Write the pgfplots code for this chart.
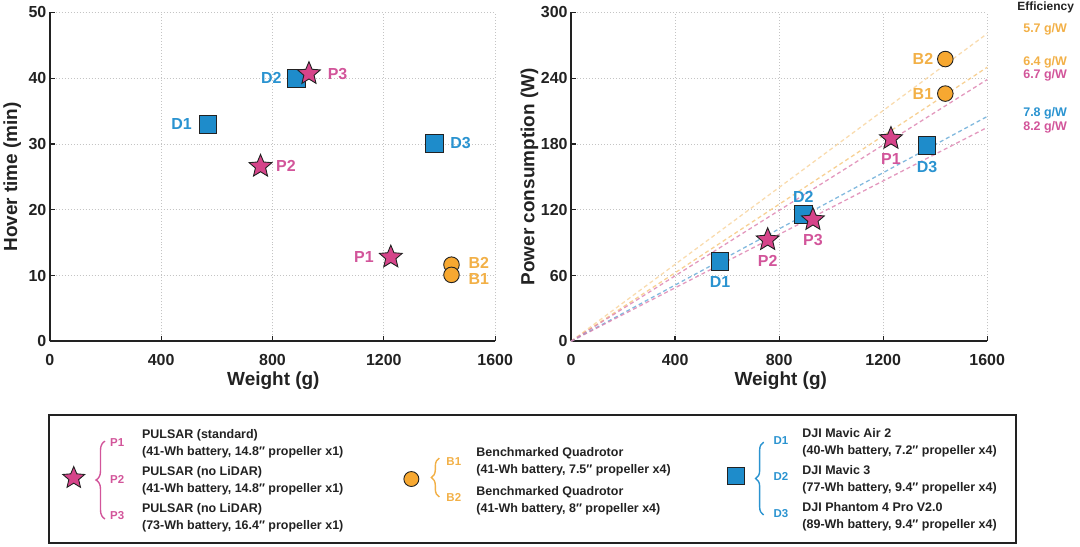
\documentclass[border=0pt]{standalone}
\usepackage{fontspec}
\setmainfont{Liberation Sans}
\usepackage{pgfplots}
\pgfplotsset{compat=1.18}
\usetikzlibrary{decorations.pathreplacing}

\definecolor{cpink}{HTML}{D6448A}
\definecolor{tpink}{HTML}{D2559A}
\definecolor{cblue}{HTML}{1E8CCB}
\definecolor{tblue}{HTML}{2A93D0}
\definecolor{corange}{HTML}{F7A831}
\definecolor{torange}{HTML}{F2B047}
\definecolor{lorange}{HTML}{F5C57A}
\definecolor{lpink}{HTML}{DC7FAE}
\definecolor{lblue}{HTML}{63A8D6}
\definecolor{gridc}{HTML}{C4C4C4}
\definecolor{ink}{HTML}{222222}

\newcommand{\fs}[1]{\fontsize{#1}{#1}\selectfont\bfseries}

\pgfdeclareplotmark{fstar}{%
  \pgfpathmoveto{\pgfpointpolar{90}{\pgfplotmarksize}}%
  \pgfpathlineto{\pgfpointpolar{126}{0.45*\pgfplotmarksize}}%
  \pgfpathlineto{\pgfpointpolar{162}{\pgfplotmarksize}}%
  \pgfpathlineto{\pgfpointpolar{198}{0.45*\pgfplotmarksize}}%
  \pgfpathlineto{\pgfpointpolar{234}{\pgfplotmarksize}}%
  \pgfpathlineto{\pgfpointpolar{270}{0.45*\pgfplotmarksize}}%
  \pgfpathlineto{\pgfpointpolar{306}{\pgfplotmarksize}}%
  \pgfpathlineto{\pgfpointpolar{342}{0.45*\pgfplotmarksize}}%
  \pgfpathlineto{\pgfpointpolar{18}{\pgfplotmarksize}}%
  \pgfpathlineto{\pgfpointpolar{54}{0.45*\pgfplotmarksize}}%
  \pgfpathclose
  \pgfusepathqfillstroke}

\pgfplotsset{
  myax/.style={
    scale only axis, axis lines=left,
    axis line style={line width=1.8pt, color=ink, -},
    tick align=inside, major tick length=5pt,
    tick style={line width=1.2pt, color=ink},
    grid=major, grid style={dash pattern=on 1pt off 2pt, line width=1pt, color=gridc},
    enlargelimits=false, clip=false,
    /pgf/number format/assume math mode=true,
    /pgf/number format/1000 sep={},
    ticklabel style={font=\fs{16}, text=ink},
    label style={font=\fs{19}, text=ink},
    xmin=0, xmax=1600, xtick={0,400,...,1600},
    xticklabel style={yshift=-10pt},
  },
  star/.style={only marks, mark=fstar, mark size=12pt, mark options={fill=cpink, draw=ink, line width=0.9pt}},
  sq/.style={only marks, mark=square*, mark size=8.8pt, mark options={fill=cblue, draw=ink, line width=0.9pt}},
  circ/.style={only marks, mark=*, mark size=7.8pt, mark options={fill=corange, draw=ink, line width=0.9pt}},
  eff/.style={dash pattern=on 4pt off 3pt, line width=1.3pt, opacity=0.8},
}
\tikzset{lbl/.style={font=\fs{16}, inner sep=0pt}}

\begin{document}
\begin{tikzpicture}[x=1pt,y=1pt]
\path (0,0) rectangle (1080,548);

% ---------------- left: hover time ----------------
\begin{axis}[myax, at={(47.7pt,206pt)}, anchor=south west,
  width=446.3pt, height=329.5pt,
  ymin=0, ymax=50, ytick={0,10,...,50},
  xlabel={Weight (g)}, ylabel={Hover time (min)},
  xlabel style={at={(axis description cs:0.502,-0.121)}, anchor=center},
  ylabel style={at={(axis description cs:-0.0845,0.5)}, anchor=center}]
\addplot[sq] coordinates {(568,33.0) (887,40.0) (1381,30.1)};
\addplot[star] coordinates {(1225,12.8) (757,26.6) (931,40.7)};
\addplot[circ] coordinates {(1443,11.65) (1443,10.1)};
\node[lbl, text=tblue, anchor=east] at (axis cs:568,33.0) [xshift=-16pt] {D1};
\node[lbl, text=tblue, anchor=east] at (axis cs:887,40.0) [xshift=-15pt] {D2};
\node[lbl, text=tblue, anchor=west] at (axis cs:1381,30.1) [xshift=16pt] {D3};
\node[lbl, text=tpink, anchor=east] at (axis cs:1225,12.8) [xshift=-17pt] {P1};
\node[lbl, text=tpink, anchor=west] at (axis cs:757,26.6) [xshift=15.5pt] {P2};
\node[lbl, text=tpink, anchor=west] at (axis cs:931,40.7) [xshift=18.7pt] {P3};
\node[lbl, text=torange, anchor=west] at (axis cs:1443,11.65) [xshift=17pt, yshift=2pt] {B2};
\node[lbl, text=torange, anchor=west] at (axis cs:1443,10.1) [xshift=17pt, yshift=-3.7pt] {B1};
\end{axis}

% ---------------- right: power consumption ----------------
\begin{axis}[myax, at={(570pt,206pt)}, anchor=south west,
  width=417pt, height=329.5pt,
  ymin=0, ymax=300, ytick={0,60,...,300},
  xlabel={Weight (g)}, ylabel={Power consumption (W)},
  xlabel style={at={(axis description cs:0.504,-0.121)}, anchor=center},
  ylabel style={at={(axis description cs:-0.1,0.5)}, anchor=center}]
\addplot[eff, color=lorange!75] coordinates {(0,0) (1600,280.7)};
\addplot[eff, color=lorange] coordinates {(0,0) (1600,250.0)};
\addplot[eff, color=lpink] coordinates {(0,0) (1600,238.8)};
\addplot[eff, color=lblue] coordinates {(0,0) (1600,205.1)};
\addplot[eff, color=lpink] coordinates {(0,0) (1600,195.1)};
\addplot[sq] coordinates {(573,73.0) (893,115.5) (1369,178.5)};
\addplot[star] coordinates {(1230,185) (756,92.7) (930,111)};
\addplot[circ] coordinates {(1439,257.5) (1439,226)};
\node[lbl, text=tblue] at (axis cs:573,73.0) [yshift=-21pt] {D1};
\node[lbl, text=tblue] at (axis cs:893,115.5) [yshift=18.3pt] {D2};
\node[lbl, text=tblue] at (axis cs:1369,178.5) [yshift=-21pt] {D3};
\node[lbl, text=tpink] at (axis cs:1230,185) [yshift=-21pt] {P1};
\node[lbl, text=tpink] at (axis cs:756,92.7) [yshift=-21.7pt] {P2};
\node[lbl, text=tpink] at (axis cs:930,111) [yshift=-20pt] {P3};
\node[lbl, text=torange, anchor=east] at (axis cs:1439,257.5) [xshift=-12pt] {B2};
\node[lbl, text=torange, anchor=east] at (axis cs:1439,226) [xshift=-12pt] {B1};
\node[font=\fs{12}, text=ink, inner sep=0pt, anchor=west] at (axis cs:1600,304.5) [xshift=30pt] {Efficiency};
\node[font=\fs{12.5}, text=torange, inner sep=0pt, anchor=west] at (axis cs:1600,284.5) [xshift=36pt] {5.7 g/W};
\node[font=\fs{12.5}, text=torange, inner sep=0pt, anchor=west] at (axis cs:1600,254.5) [xshift=36pt] {6.4 g/W};
\node[font=\fs{12.5}, text=tpink, inner sep=0pt, anchor=west] at (axis cs:1600,242.7) [xshift=36pt] {6.7 g/W};
\node[font=\fs{12.5}, text=tblue, inner sep=0pt, anchor=west] at (axis cs:1600,208) [xshift=36pt] {7.8 g/W};
\node[font=\fs{12.5}, text=tpink, inner sep=0pt, anchor=west] at (axis cs:1600,195.5) [xshift=36pt] {8.2 g/W};
\end{axis}

% ---------------- legend panel ----------------
\begin{axis}[at={(0pt,0pt)}, anchor=south west, scale only axis,
  width=1080pt, height=548pt, xmin=0, xmax=1080, ymin=0, ymax=548,
  y dir=reverse, hide axis, clip=false]
\draw[line width=2.5pt, color=ink] (axis cs:47,416) rectangle (axis cs:1016,544);
\addplot[star, mark size=11.5pt] coordinates {(71.7,479)};
\addplot[circ, mark size=7.5pt] coordinates {(410,480)};
\addplot[sq, mark size=8.5pt] coordinates {(735,477)};
\draw[decorate, decoration={brace, amplitude=9pt}, line width=1.4pt, color=tpink] (axis cs:103,520) -- (axis cs:103,442);
\draw[decorate, decoration={brace, amplitude=8pt}, line width=1.4pt, color=torange] (axis cs:438,498) -- (axis cs:438,459);
\draw[decorate, decoration={brace, amplitude=8pt}, line width=1.4pt, color=tblue] (axis cs:763,516) -- (axis cs:763,443);
\tikzset{tag/.style={font=\fs{11.5}, inner sep=0pt, anchor=west}}
\node[tag, text=tpink] at (axis cs:108,443) {P1};
\node[tag, text=tpink] at (axis cs:108,480) {P2};
\node[tag, text=tpink] at (axis cs:108,517) {P3};
\node[tag, text=torange] at (axis cs:445,462) {B1};
\node[tag, text=torange] at (axis cs:445,499) {B2};
\node[tag, text=tblue] at (axis cs:772.7,441.7) {D1};
\node[tag, text=tblue] at (axis cs:772.7,477) {D2};
\node[tag, text=tblue] at (axis cs:772.7,515) {D3};
\tikzset{lt/.style={font=\fs{12.5}, text=ink, inner sep=0pt, anchor=base west}}
\node[lt] at (axis cs:140,439.5) {PULSAR (standard)};
\node[lt] at (axis cs:140,456.5) {(41-Wh battery, 14.8″ propeller x1)};
\node[lt] at (axis cs:140,476.5) {PULSAR (no LiDAR)};
\node[lt] at (axis cs:140,493.5) {(41-Wh battery, 14.8″ propeller x1)};
\node[lt] at (axis cs:140,513.5) {PULSAR (no LiDAR)};
\node[lt] at (axis cs:140,530.5) {(73-Wh battery, 16.4″ propeller x1)};
\node[lt] at (axis cs:475,457.5) {Benchmarked Quadrotor};
\node[lt] at (axis cs:475,474.5) {(41-Wh battery, 7.5″ propeller x4)};
\node[lt] at (axis cs:475,496.5) {Benchmarked Quadrotor};
\node[lt] at (axis cs:475,513.5) {(41-Wh battery, 8″ propeller x4)};
\node[lt] at (axis cs:801.7,438.5) {DJI Mavic Air 2};
\node[lt] at (axis cs:801.7,455.5) {(40-Wh battery, 7.2″ propeller x4)};
\node[lt] at (axis cs:801.7,475.5) {DJI Mavic 3};
\node[lt] at (axis cs:801.7,492.5) {(77-Wh battery, 9.4″ propeller x4)};
\node[lt] at (axis cs:801.7,512.5) {DJI Phantom 4 Pro V2.0};
\node[lt] at (axis cs:801.7,529.5) {(89-Wh battery, 9.4″ propeller x4)};
\end{axis}
\end{tikzpicture}
\end{document}
